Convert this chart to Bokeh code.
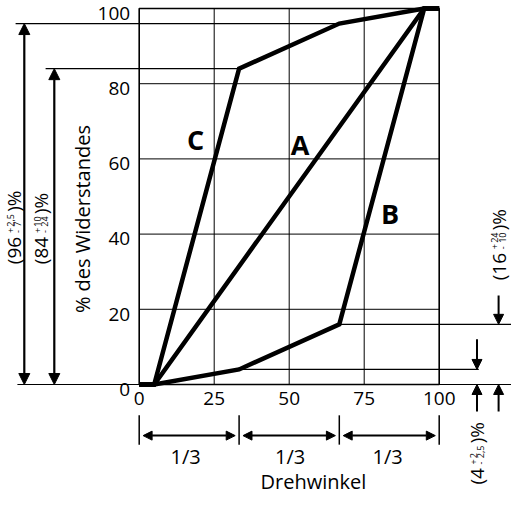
import math
from bokeh.plotting import figure
from bokeh.models import Range1d, Arrow, NormalHead, Label
from bokeh.core.properties import value
from bokeh.embed import file_html
from bokeh.resources import INLINE

# ---------------- data ----------------
x_ticks = [0, 25, 50, 75, 100]
y_ticks = [0, 20, 40, 60, 80, 100]
x_grid = [25, 50, 75]
y_grid = [20, 40, 60, 80]

a_x = [0, 5, 95, 100]
a_y = [0, 0, 100, 100]
bc_x = [0, 5, 33.3, 66.7, 95, 100]
b_y = [0, 0, 4, 16, 100, 100]
c_y = [0, 0, 84, 96, 100, 100]

curve_names = ["A", "B", "C"]
thirds = [0, 33.3, 66.7, 100]
third_labels = ["1/3", "1/3", "1/3"]

tol_values = ["96", "84", "16", "4"]
tol_plus = ["2,5", "10", "24", "2"]
tol_minus = ["7", "24", "10", "2,5"]

# ---------------- layout constants ----------------
FONT = "Open Sans"
PX_X = 3.0    # px per x unit
PX_Y = 3.76   # px per y unit
X0, X1 = -46.233, 124.1
Y0, Y1 = -29.26, 102.13

curve_label_pos = [(53.6, 63.9), (83.6, 45.5), (18.8, 65.2)]
third_label_x = [15.5, 50.3, 82.8]

p = figure(width=511, height=494, output_backend="svg", toolbar_location=None,
           x_range=Range1d(X0, X1), y_range=Range1d(Y0, Y1),
           x_axis_type=None, y_axis_type=None, min_border=0)
p.background_fill_color = "white"
p.border_fill_color = "white"
p.outline_line_color = None
p.grid.visible = False

xmin, xmax = x_ticks[0], x_ticks[-1]
ymin, ymax = y_ticks[0], y_ticks[-1]

# grid
p.segment(x0=x_grid, y0=[ymin] * len(x_grid), x1=x_grid, y1=[ymax] * len(x_grid),
          line_color="black", line_width=1)
p.segment(x0=[xmin] * len(y_grid), y0=y_grid, x1=[xmax] * len(y_grid), y1=y_grid,
          line_color="black", line_width=1)
# frame
p.line([xmin, xmin, xmax, xmax, xmin], [ymin, ymax, ymax, ymin, ymin],
       line_color="black", line_width=1.6)

# tick labels
p.text(x=x_ticks, y=[-2.0] * len(x_ticks), text=[str(t) for t in x_ticks],
       text_align="center", text_baseline="top", text_font=value(FONT),
       text_font_size="19px", text_color="black")
p.text(x=[-3.0] * len(y_ticks), y=[t - 1.3 for t in y_ticks], text=[str(t) for t in y_ticks],
       text_align="right", text_baseline="middle", text_font=value(FONT),
       text_font_size="19px", text_color="black")

# curves
for xs, ys in ((a_x, a_y), (bc_x, b_y), (bc_x, c_y)):
    p.line(xs, ys, line_color="black", line_width=4.5, line_join="miter")


def lbl(x, y, text, size, angle=0.0, align="center", baseline="middle", bold=False):
    p.add_layout(Label(x=x, y=y, text=text, angle=angle, text_align=align,
                       text_baseline=baseline, text_font=FONT,
                       text_font_size=f"{size}px", text_color="black",
                       text_font_style="bold" if bold else "normal"))


for name, (lx, ly) in zip(curve_names, curve_label_pos):
    lbl(lx, ly, name, 27, bold=True)


def seg(x0, y0, x1, y1, w=1.2, start=False, end=False, hs=10):
    def head():
        return NormalHead(size=hs, fill_color="black", line_color="black", line_width=1)
    p.add_layout(Arrow(x_start=x0, y_start=y0, x_end=x1, y_end=y1,
                       line_color="black", line_width=w,
                       start=head() if start else None, end=head() if end else None))


RA, RB = 112.6, 119.8

# reference lines from the curve knees
seg(-41.2, c_y[3], bc_x[3], c_y[3])
seg(-31.2, c_y[2], bc_x[2], c_y[2])
seg(-40.6, 0, X1, 0)
seg(bc_x[3], b_y[3], X1, b_y[3])
seg(bc_x[2], b_y[2], RA + 0.6, b_y[2])

# left dimension arrows
seg(-38.3, 0, -38.3, c_y[3], w=2.2, start=True, end=True, hs=11)
seg(-28.3, 0, -28.3, c_y[2], w=2.2, start=True, end=True, hs=11)

# right dimension arrows
seg(RA, 12, RA, b_y[2], w=2, end=True, hs=10)
seg(RA, -7.2, RA, 0, w=2, end=True, hs=10)
seg(RB, 23.7, RB, b_y[3], w=2, end=True, hs=10)
seg(RB, -7.2, RB, 0, w=2, end=True, hs=10)

# bottom thirds
for t in thirds:
    seg(t, -8.2, t, -16.0, w=1.5)
for i, txt in enumerate(third_labels):
    seg(thirds[i] + 1.3, -13.6, thirds[i + 1] - 1.3, -13.6, w=2, start=True, end=True, hs=9)
    lbl(third_label_x[i], -19.2, txt, 20)

lbl(58.1, -25.7, "Drehwinkel", 20)
lbl(-18.9, 44.0, "% des Widerstandes", 20, angle=math.pi / 2)

CW = {"(": 0.296, ")": 0.296, "%": 0.823, "+": 0.572, "-": 0.322, ",": 0.25}


def tw(s, size):
    return sum(CW.get(ch, 0.572) for ch in s) * size * 1.03


# tolerance labels (rotated, with stacked +/- tolerances)
def tol_label(xc, y0, val, plus, minus, F=19, f=9):
    half = math.pi / 2
    y = y0
    lbl(xc, y, "(" + val, F, angle=half, align="left")
    y += (tw("(" + val, F) + 3.0) / PX_Y
    dx = 3.6 / PX_X
    lbl(xc - dx, y, "+", f, angle=half, align="left")
    lbl(xc + dx, y, "-", f, angle=half, align="left")
    y += (tw("+", f) + 1.0) / PX_Y
    lbl(xc - dx, y, plus, f, angle=half, align="left")
    lbl(xc + dx, y, minus, f, angle=half, align="left")
    y += (max(tw(plus, f), tw(minus, f)) + 2.0) / PX_Y
    lbl(xc, y, ")%", F, angle=half, align="left")


tol_pos = [(-41.6, 32.0), (-32.6, 32.0), (RB, 27.7), (RA, -26.6)]
for (tx, ty), v, pl, mi in zip(tol_pos, tol_values, tol_plus, tol_minus):
    tol_label(tx, ty, v, pl, mi)

open("out.html", "w").write(file_html(p, INLINE))
